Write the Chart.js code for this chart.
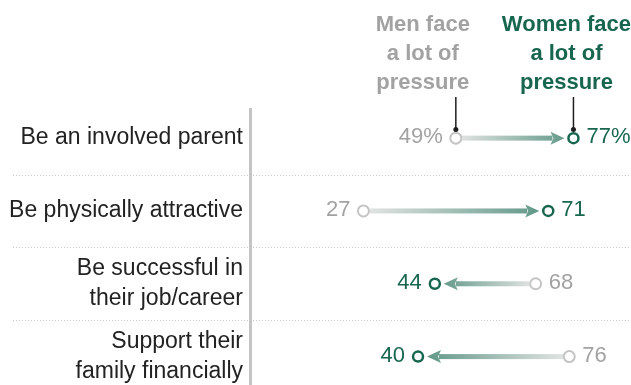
<!DOCTYPE html>
<html>
<head>
<meta charset="utf-8">
<script src="https://cdn.jsdelivr.net/npm/chart.js@4.4.0/dist/chart.umd.min.js"></script>
<style>
    html, body { margin: 0; padding: 0; background: #fff; }
    #wrap { position: relative; width: 631px; height: 385px; }
</style>
</head>
<body>
<div id="wrap"><canvas id="pressureChart"></canvas></div>
<script>
'use strict'

const categories = [
    ['Be an involved parent'],
    ['Be physically attractive'],
    ['Be successful in', 'their job/career'],
    ['Support their', 'family financially']
];
const menValues = [49, 27, 68, 76];
const womenValues = [77, 71, 44, 40];
const menHeader = ['Men face', 'a lot of', 'pressure'];
const womenHeader = ['Women face', 'a lot of', 'pressure'];

const GREEN = '#186650';
const GRAY_TEXT = '#a2a2a2';
const FONT = "'Liberation Sans', Arial, sans-serif";

// separators, arrows, value labels and the two header notes
const dumbbellPlugin = {
    id: 'dumbbell',
    beforeDraw(chart) {
        const ctx = chart.ctx;
        const y = chart.scales.y;
        ctx.save();
        ctx.strokeStyle = '#c8c8c8';
        ctx.lineWidth = 1;
        ctx.setLineDash([1, 2]);
        for (let i = 0; i < categories.length - 1; i++) {
            const yy = Math.round(y.getPixelForValue(i + 0.5)) + 0.5;
            ctx.beginPath();
            ctx.moveTo(13, yy);
            ctx.lineTo(chart.chartArea.right, yy);
            ctx.stroke();
        }
        ctx.restore();
    },
    beforeDatasetsDraw(chart) {
        const ctx = chart.ctx;
        const x = chart.scales.x, y = chart.scales.y;
        ctx.save();
        menValues.forEach((m, i) => {
            const w = womenValues[i];
            const x1 = x.getPixelForValue(m), x2 = x.getPixelForValue(w);
            const yy = y.getPixelForValue(i);
            const dir = x2 > x1 ? 1 : -1;
            const start = x1 + dir * 6;
            const tip = x2 - dir * 9;
            const headLen = 14;
            const grad = ctx.createLinearGradient(x1, 0, x2, 0);
            grad.addColorStop(0, '#e6e6e6');
            grad.addColorStop(1, '#5a9482');
            ctx.fillStyle = grad;
            const shaftEnd = tip - dir * (headLen - 2);
            ctx.fillRect(Math.min(start, shaftEnd), yy - 2.5, Math.abs(shaftEnd - start), 5);
            ctx.beginPath();
            ctx.moveTo(tip, yy);
            ctx.lineTo(tip - dir * headLen, yy - 6.5);
            ctx.lineTo(tip - dir * (headLen - 3), yy);
            ctx.lineTo(tip - dir * headLen, yy + 6.5);
            ctx.closePath();
            ctx.fill();
        });
        ctx.restore();
    },
    afterDatasetsDraw(chart) {
        const ctx = chart.ctx;
        const x = chart.scales.x, y = chart.scales.y;
        ctx.save();
        ctx.font = '22px ' + FONT;
        ctx.textBaseline = 'middle';
        menValues.forEach((m, i) => {
            const w = womenValues[i];
            const yy = y.getPixelForValue(i) - 1;
            const fmt = v => i === 0 ? v + '%' : String(v);
            const pts = [
                { v: m, color: GRAY_TEXT },
                { v: w, color: GREEN }
            ].sort((a, b) => a.v - b.v);
            ctx.fillStyle = pts[0].color;
            ctx.textAlign = 'right';
            ctx.fillText(fmt(pts[0].v), x.getPixelForValue(pts[0].v) - 13, yy);
            ctx.fillStyle = pts[1].color;
            ctx.textAlign = 'left';
            ctx.fillText(fmt(pts[1].v), x.getPixelForValue(pts[1].v) + 13, yy);
        });

        // header notes
        ctx.font = 'bold 22px ' + FONT;
        ctx.textAlign = 'center';
        ctx.textBaseline = 'alphabetic';
        const mx = x.getPixelForValue(menValues[0]);
        const wx = x.getPixelForValue(womenValues[0]);
        const baselines = [31, 60, 89];
        ctx.fillStyle = GRAY_TEXT;
        menHeader.forEach((t, k) => ctx.fillText(t, mx - 33, baselines[k]));
        ctx.fillStyle = GREEN;
        womenHeader.forEach((t, k) => ctx.fillText(t, wx - 7, baselines[k]));

        // leader lines
        ctx.strokeStyle = '#1e1e1e';
        ctx.fillStyle = '#1e1e1e';
        ctx.lineWidth = 1.5;
        [mx, wx].forEach(px => {
            ctx.beginPath();
            ctx.moveTo(px, 97);
            ctx.lineTo(px, 129);
            ctx.stroke();
            ctx.beginPath();
            ctx.arc(px, 129.5, 2.5, 0, Math.PI * 2);
            ctx.fill();
        });
        ctx.restore();
    }
};

let pressureChart = document.querySelector('#pressureChart');
new Chart(pressureChart, {
    type: 'scatter',
    data: {
        datasets: [
            {
                label: 'Men',
                data: menValues.map((v, i) => ({ x: v, y: i })),
                pointRadius: 5.5,
                borderWidth: 2,
                borderColor: '#c4c4c4',
                backgroundColor: '#ffffff'
            },
            {
                label: 'Women',
                data: womenValues.map((v, i) => ({ x: v, y: i })),
                pointRadius: 5,
                borderWidth: 2.5,
                borderColor: GREEN,
                backgroundColor: '#ffffff'
            }
        ]
    },
    options: {
        responsive: true,
        maintainAspectRatio: false,
        animation: false,
        layout: {
            autoPadding: false,
            padding: { top: 109, left: 0, right: 0, bottom: 0 }
        },
        plugins: {
            legend: { display: false },
            tooltip: { enabled: false }
        },
        scales: {
            x: {
                type: 'linear',
                display: false,
                min: 0,
                max: 90.7
            },
            y: {
                type: 'linear',
                reverse: true,
                min: -0.4,
                max: 3.39,
                afterBuildTicks: (axis) => {
                    axis.ticks = categories.map((c, i) => ({ value: i }));
                },
                afterFit: (axis) => {
                    // fixed label column, no extra room for overflowing labels
                    axis.width = 250;
                    axis.paddingTop = 0;
                    axis.paddingBottom = 0;
                },
                grid: { display: false, drawTicks: false },
                border: { display: true, color: '#c4c4c4', width: 3 },
                ticks: {
                    autoSkip: false,
                    padding: 7,
                    color: '#222',
                    font: { family: FONT, size: 23, lineHeight: 1.3 },
                    callback: (v) => categories[v]
                }
            }
        }
    },
    plugins: [dumbbellPlugin]
});
</script>
</body>
</html>
